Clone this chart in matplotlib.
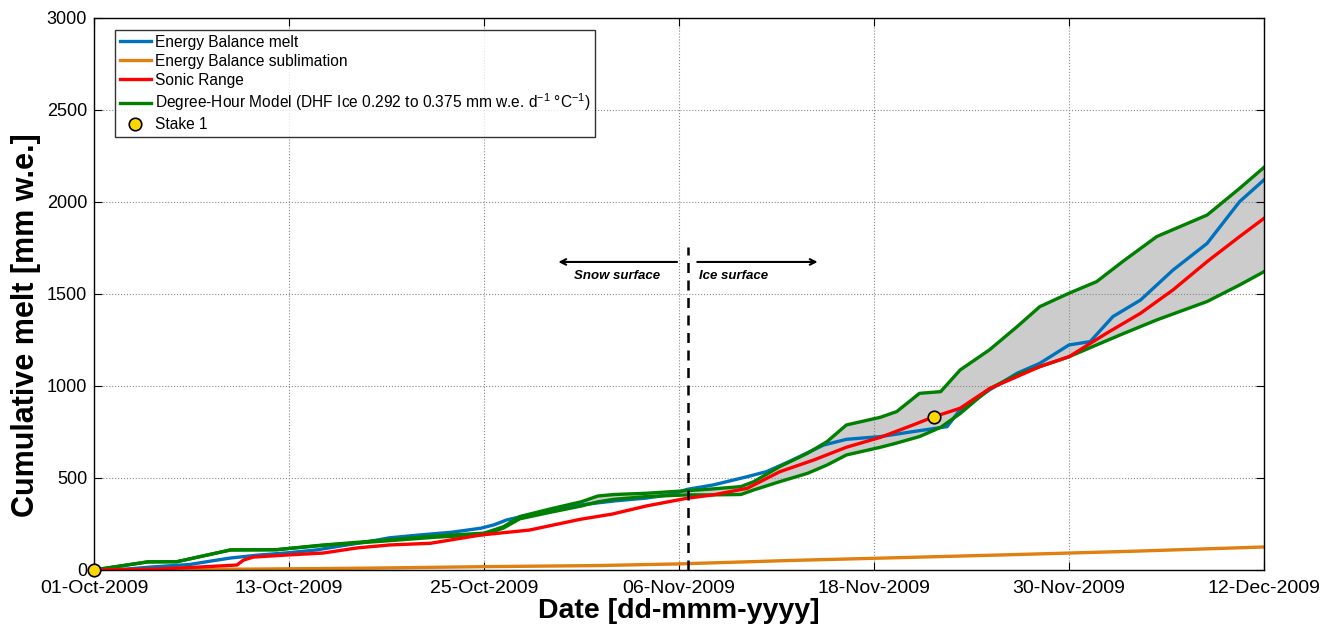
import matplotlib
matplotlib.use("Agg")
import matplotlib.pyplot as plt
import numpy as np

plt.rcParams['font.family'] = ['Liberation Sans', 'DejaVu Sans']
plt.rcParams['mathtext.fontset'] = 'custom'
plt.rcParams['mathtext.rm'] = 'Liberation Sans'

# days since 01-Oct-2009
eb_days = [0, 2, 3.5, 5.9, 7.3, 8.4, 10, 12, 13.7, 15.5, 17.2, 18.2, 20, 22, 23.8, 24.6, 25.4,
           27.5, 29.9, 32, 34, 35.5, 36.5, 38.1, 40.2, 41.4, 42.8, 44.9, 46.3, 48.4, 50.4,
           52.5, 53.2, 55.1, 56.8, 58.2, 60, 61.3, 62.7, 64.4, 66.4, 68.5, 70.5, 72]
eb_melt = [0, 5, 16, 30, 50, 65, 80, 94, 109, 135, 159, 175, 190, 205, 227, 245, 272,
           315, 353, 375, 391, 410, 438, 462, 507, 535, 590, 679, 710, 725, 752,
           779, 860, 978, 1069, 1123, 1223, 1241, 1377, 1467, 1630, 1775, 2002, 2120]

sub_days = [0, 10, 17, 24, 31, 36, 43, 50, 56, 64, 72]
eb_sub = [0, 5, 10, 18, 24, 33, 52, 68, 82, 102, 125]

sr_days = [0, 3.9, 6.5, 8.8, 9.2, 9.8, 12, 14.1, 16.2, 18.2, 20.7, 23.8, 26.8, 29.9, 31.9,
           34, 36.5, 38.1, 40.2, 42.2, 44.3, 46.3, 48.4, 50.4, 51.6, 53.3, 55.1, 58.2, 60,
           62.3, 64.4, 66.4, 68.5, 70.5, 72]
sonic = [0, 5, 16, 27, 54, 70, 82, 92, 120, 136, 145, 190, 217, 275, 304,
         348, 390, 408, 444, 534, 598, 667, 721, 788, 830, 879, 985, 1105, 1159,
         1286, 1395, 1522, 1676, 1812, 1911]

dh_days = [0, 1.5, 3.3, 5.1, 8.4, 11.2, 14, 18, 21, 24, 25.2, 26.2, 28, 30, 31, 32, 34, 36.5,
           38, 39.8, 40.6, 42.2, 43.9, 45.1, 46.3, 48.4, 49.4, 50.8, 52.1, 53.3, 55.1, 56.8,
           58.2, 60, 61.7, 63.3, 65.4, 68.5, 70.5, 72]
dh_high = [0, 20, 44, 45, 109, 110, 135, 163, 185, 200, 235, 290, 330, 371, 402, 410, 417, 431,
           440, 453, 480, 562, 634, 697, 788, 830, 861, 960, 969, 1087, 1196, 1322,
           1431, 1504, 1567, 1676, 1812, 1929, 2074, 2188]
dh_low = [0, 20, 44, 45, 109, 110, 133, 158, 178, 192, 228, 278, 312, 348, 370, 384, 399, 408,
          408, 410, 435, 480, 525, 570, 625, 667, 690, 725, 775, 850, 985, 1060,
          1105, 1159, 1223, 1283, 1359, 1459, 1549, 1621]

stake_days = [0, 51.7]
stake_melt = [0, 833]

tick_days = [0, 12, 24, 36, 48, 60, 72]
tick_labels = ['01-Oct-2009', '13-Oct-2009', '25-Oct-2009', '06-Nov-2009',
               '18-Nov-2009', '30-Nov-2009', '12-Dec-2009']

fig = plt.figure(figsize=(13.38, 6.28), dpi=100)
ax = fig.add_axes([0.0703, 0.0924, 0.8744, 0.879])

ax.fill_between(dh_days, dh_low, dh_high, color='#cccccc', lw=0)
l1, = ax.plot(eb_days, eb_melt, color='#0072BD', lw=2.4)
l2, = ax.plot(sub_days, eb_sub, color='#E08010', lw=2.4)
l4a, = ax.plot(dh_days, dh_high, color='#008000', lw=2.4)
ax.plot(dh_days, dh_low, color='#008000', lw=2.4)
l3, = ax.plot(sr_days, sonic, color='#FF0000', lw=2.4)
l5, = ax.plot(stake_days, stake_melt, 'o', color='#FFD700', mec='black', mew=1.2, ms=9,
              clip_on=False, zorder=5)

# snow / ice boundary
ax.plot([36.55, 36.55], [0, 1755], 'k--', lw=1.8, dashes=(4, 3))
ax.annotate('', xy=(28.4, 1674), xytext=(36.05, 1674),
            arrowprops=dict(arrowstyle='->', color='black', lw=1.5))
ax.annotate('', xy=(44.7, 1674), xytext=(36.95, 1674),
            arrowprops=dict(arrowstyle='->', color='black', lw=1.5))
ax.text(32.2, 1598, 'Snow surface', ha='center', va='center', fontsize=9.5,
        fontweight='bold', fontstyle='italic')
ax.text(37.2, 1598, 'Ice surface', ha='left', va='center', fontsize=9.5,
        fontweight='bold', fontstyle='italic')

ax.set_xlim(0, 72)
ax.set_ylim(0, 3000)
ax.set_xticks(tick_days)
ax.set_xticklabels(tick_labels)
ax.set_yticks(range(0, 3001, 500))
ax.tick_params(direction='in', top=True, right=True, length=6)
ax.tick_params(axis='x', labelsize=14, pad=7)
ax.tick_params(axis='y', labelsize=13, pad=5)
ax.grid(True, linestyle=':', color='#888888', lw=0.8)
for s in ax.spines.values():
    s.set_linewidth(1.0)

ax.set_xlabel('Date [dd-mmm-yyyy]', fontsize=20.5, fontweight='bold', labelpad=1)
ax.set_ylabel('Cumulative melt [mm w.e.]', fontsize=22, fontweight='bold')
ax.yaxis.set_label_coords(-0.045, 0.444)

leg = ax.legend([l1, l2, l3, l4a, l5],
                ['Energy Balance melt', 'Energy Balance sublimation', 'Sonic Range',
                 r'Degree-Hour Model (DHF Ice 0.292 to 0.375 mm w.e. d$^{-1}$ °C$^{-1}$)',
                 'Stake 1'],
                loc='upper left', bbox_to_anchor=(0.018, 0.978), fontsize=11.2,
                frameon=True, fancybox=False, edgecolor='black', handlelength=2.0,
                borderpad=0.3, labelspacing=0.25, handletextpad=0.25, borderaxespad=0)
leg.get_frame().set_linewidth(1.0)

fig.savefig('out.png', dpi=100)
